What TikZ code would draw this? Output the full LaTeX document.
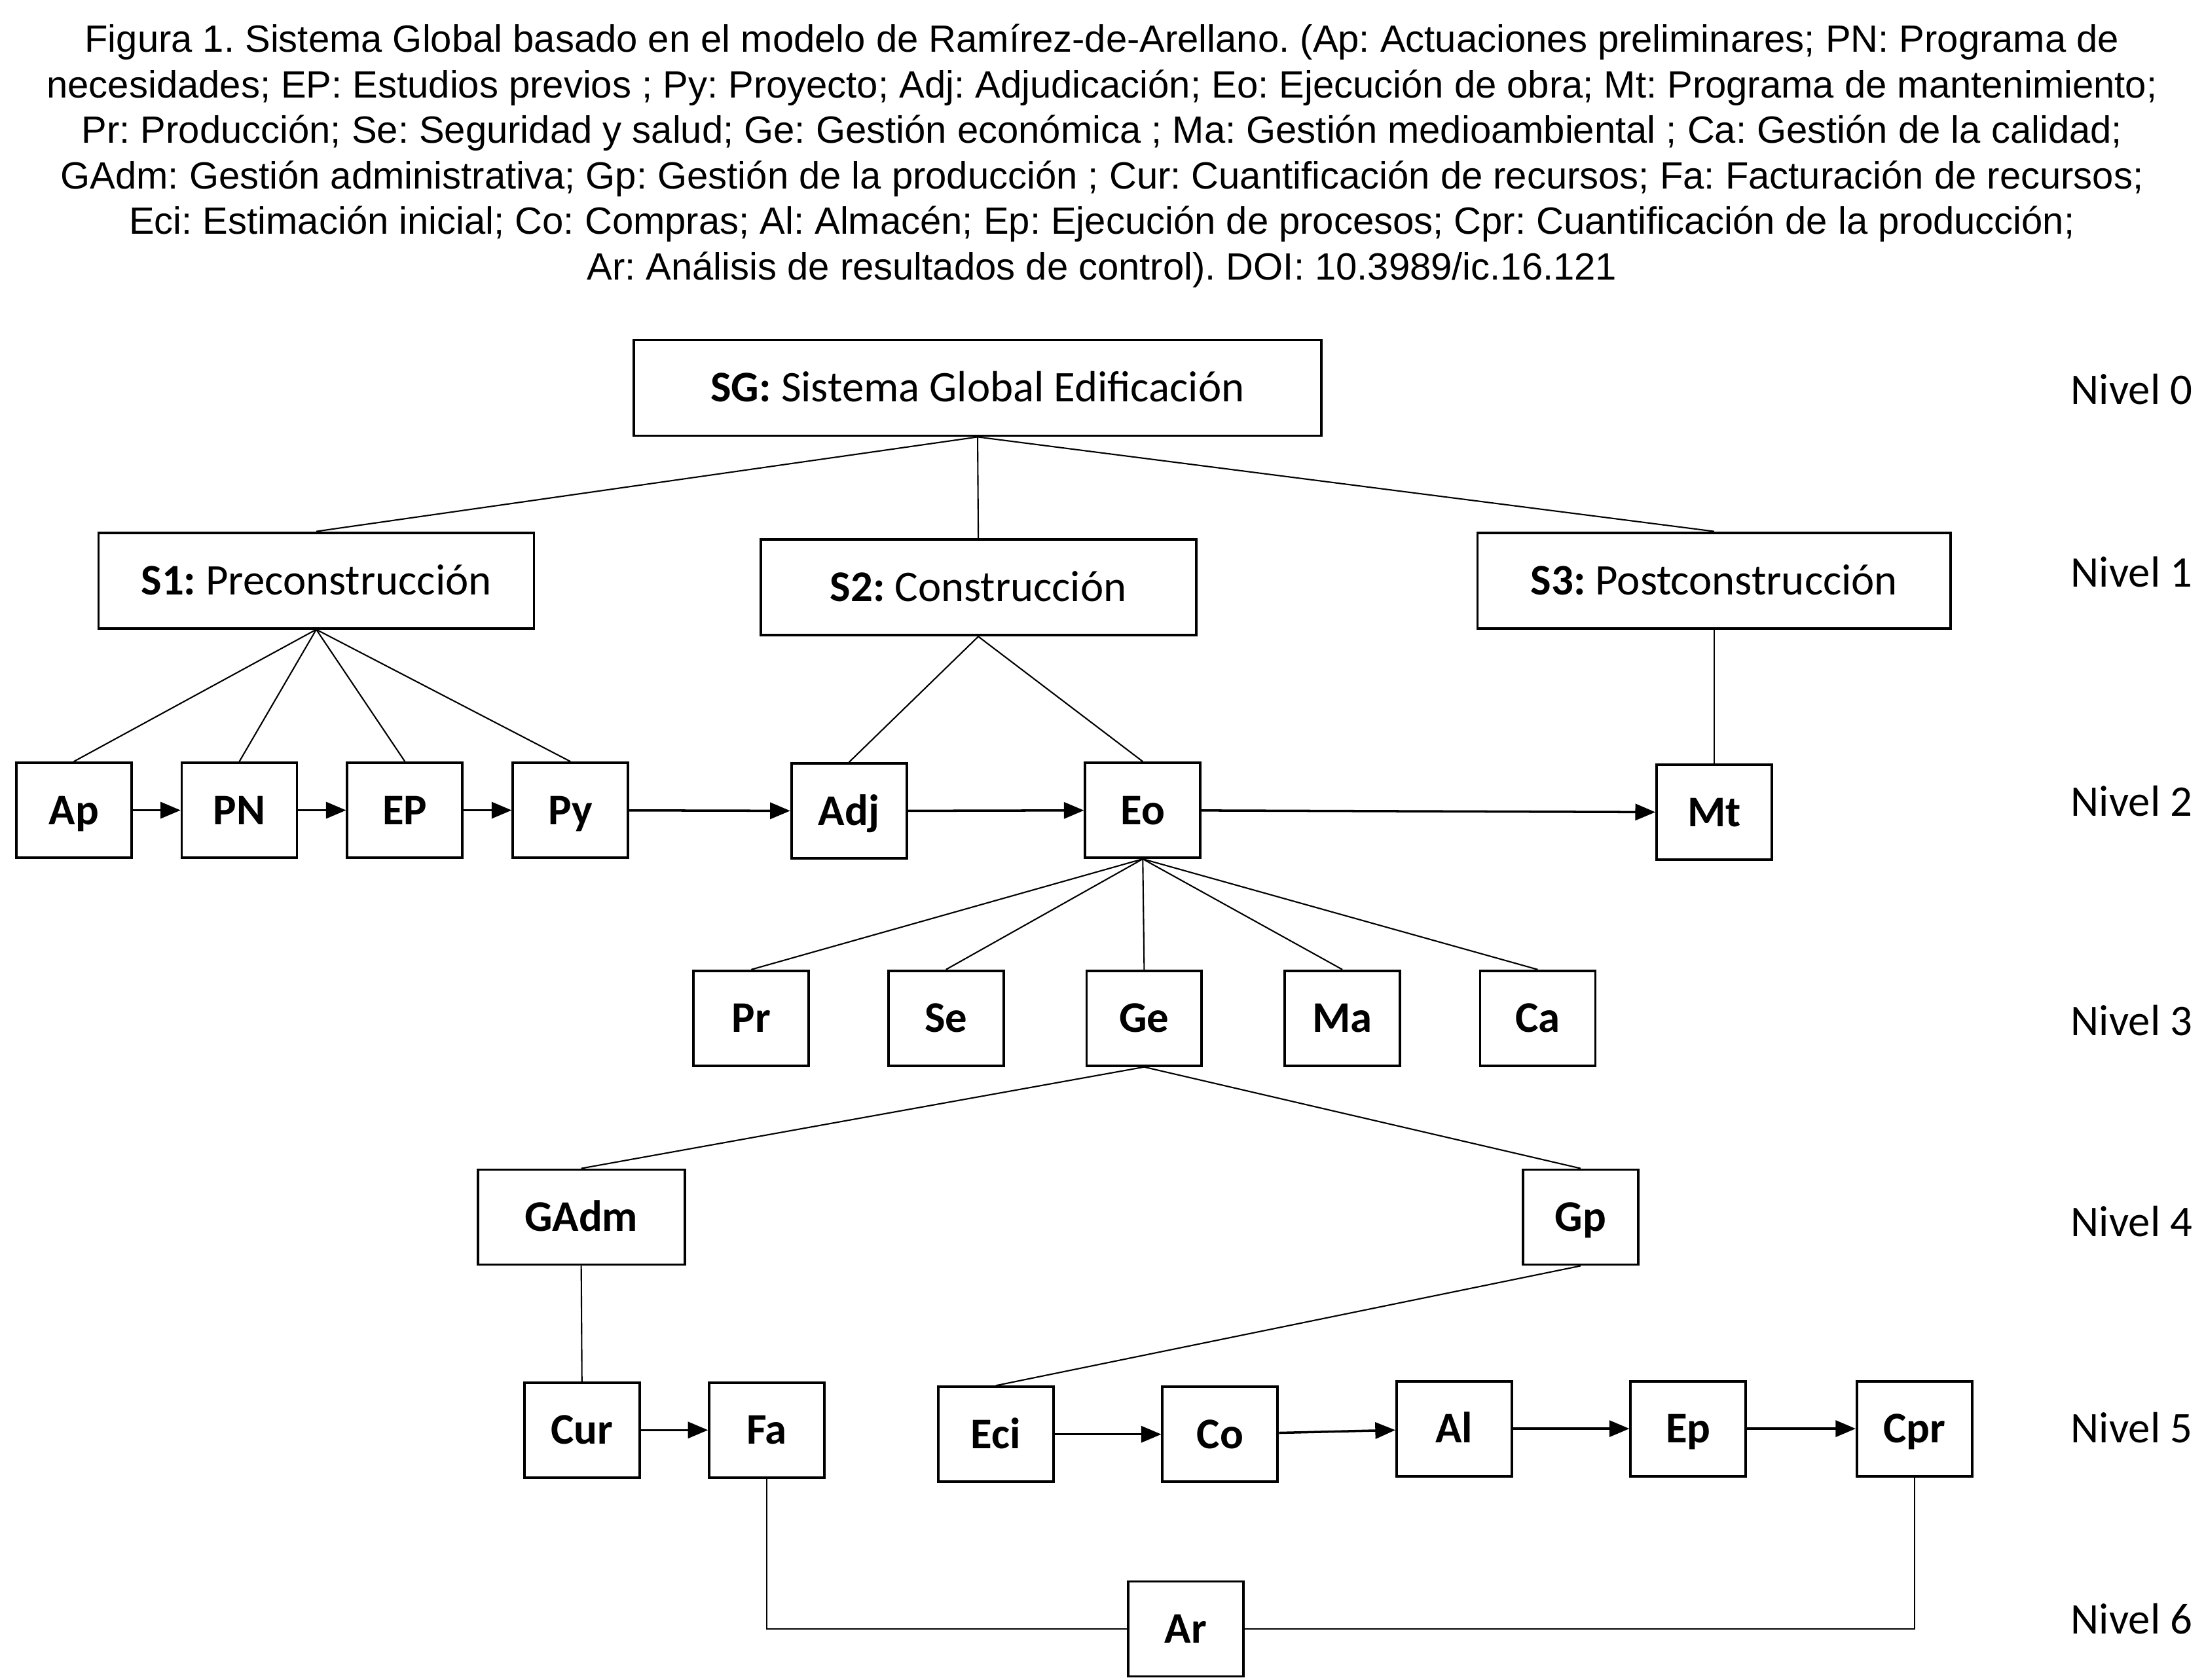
\documentclass[tikz,border=0pt]{standalone}
\usepackage{fontspec}
\setmainfont{Carlito}
\newfontfamily\arialfont{Liberation Sans}
\frenchspacing
\usetikzlibrary{arrows, positioning}
\tikzstyle{system} = [rectangle, minimum height=1.46cm, inner sep=0pt, text height=12.2pt, text depth=0pt, text centered, draw=black, line width=1.1pt, font=\fontsize{19}{23}\selectfont]
\tikzstyle{stage} = [rectangle, minimum width=1.76cm, minimum height=1.45cm, inner sep=0pt, text height=12.2pt, text depth=0pt, text centered, draw=black, line width=1.1pt, font=\fontsize{19}{23}\selectfont\bfseries]
\tikzstyle{nivel} = [anchor=east, inner sep=0pt, font=\fontsize{19}{23}\selectfont]
\tikzstyle{link} = [line width=0.6pt]
\tikzstyle{arrow} = [->,>=triangle 45, line width=1pt]

\begin{document}
\begin{tikzpicture}[x=0.021467cm, y=-0.021467cm]
  \useasboundingbox (0,0) rectangle (1568,1195);
  \node (caption) [font=\arialfont\fontsize{16.5}{19.8}\selectfont, align=center] at (784,111) {Figura 1. Sistema Global basado en el modelo de Ramírez-de-Arellano. (Ap: Actuaciones preliminares; PN: Programa de\\
    necesidades; EP: Estudios previos ; Py: Proyecto; Adj: Adjudicación; Eo: Ejecución de obra; Mt: Programa de mantenimiento;\\
    Pr: Producción; Se: Seguridad y salud; Ge: Gestión económica ; Ma: Gestión medioambiental ; Ca: Gestión de la calidad;\\
    GAdm: Gestión administrativa; Gp: Gestión de la producción ; Cur: Cuantificación de recursos; Fa: Facturación de recursos;\\
    Eci: Estimación inicial; Co: Compras; Al: Almacén; Ep: Ejecución de procesos; Cpr: Cuantificación de la producción;\\
    Ar: Análisis de resultados de control). DOI: 10.3989/ic.16.121};

  \node (sg) [system, minimum width=10.5cm] at (695.5,276) {\textbf{SG:} Sistema Global Edificación};
  \node (s1) [system, minimum width=6.65cm] at (225,413) {\textbf{S1:} Preconstrucción};
  \node (s2) [system, minimum width=6.65cm] at (696,418) {\textbf{S2:} Construcción};
  \node (s3) [system, minimum width=7.23cm] at (1219.5,413) {\textbf{S3:} Postconstrucción};

  \node (ap) [stage] at (52.5,576.5) {Ap};
  \node (pn) [stage, right=0.73cm of ap] {PN};
  \node (ep) [stage, right=0.73cm of pn] {EP};
  \node (py) [stage, right=0.73cm of ep] {Py};
  \node (adj) [stage] at (604,577) {Adj};
  \node (eo) [stage] at (813,576.5) {Eo};
  \node (mt) [stage] at (1219.5,578) {Mt};

  \node (pr) [stage] at (534.5,724.5) {Pr};
  \node (se) [stage] at (673,724.5) {Se};
  \node (ge) [stage] at (814,724.5) {Ge};
  \node (ma) [stage] at (955,724.5) {Ma};
  \node (ca) [stage] at (1094,724.5) {Ca};

  \node (gadm) [stage, minimum width=3.16cm] at (413.5,866) {GAdm};
  \node (gp) [stage] at (1124.5,866) {Gp};

  \node (cur) [stage] at (414,1017.5) {Cur};
  \node (fa) [stage] at (545.5,1017.5) {Fa};
  \node (eci) [stage] at (708.5,1020.5) {Eci};
  \node (co) [stage] at (868,1020.5) {Co};
  \node (al) [stage] at (1034.5,1016.5) {Al};
  \node (eproc) [stage] at (1201,1016.5) {Ep};
  \node (cpr) [stage] at (1362,1016.5) {Cpr};
  \node (ar) [stage] at (843.5,1159) {Ar};

  \node (n0) [nivel] at (1560,277) {Nivel 0};
  \node (n1) [nivel] at (1560,407) {Nivel 1};
  \node (n2) [nivel] at (1560,570) {Nivel 2};
  \node (n3) [nivel] at (1560,726) {Nivel 3};
  \node (n4) [nivel] at (1560,869) {Nivel 4};
  \node (n5) [nivel] at (1560,1016) {Nivel 5};
  \node (n6) [nivel] at (1560,1152) {Nivel 6};

  \draw [link] (sg.south) -- (s1.north);
  \draw [link] (sg.south) -- (s2.north);
  \draw [link] (sg.south) -- (s3.north);
  \draw [link] (s1.south) -- (ap.north);
  \draw [link] (s1.south) -- (pn.north);
  \draw [link] (s1.south) -- (ep.north);
  \draw [link] (s1.south) -- (py.north);
  \draw [link] (s2.south) -- (adj.north);
  \draw [link] (s2.south) -- (eo.north);
  \draw [link] (s3.south) -- (mt.north);
  \draw [link] (eo.south) -- (pr.north);
  \draw [link] (eo.south) -- (se.north);
  \draw [link] (eo.south) -- (ge.north);
  \draw [link] (eo.south) -- (ma.north);
  \draw [link] (eo.south) -- (ca.north);
  \draw [link] (ge.south) -- (gadm.north);
  \draw [link] (ge.south) -- (gp.north);
  \draw [link] (gadm.south) -- (cur.north);
  \draw [link] (gp.south) -- (eci.north);
  \draw [link] (fa.south) |- (ar.west);
  \draw [link] (cpr.south) |- (ar.east);

  \draw [arrow] (ap) -- (pn);
  \draw [arrow] (pn) -- (ep);
  \draw [arrow] (ep) -- (py);
  \draw [arrow] (py) -- (adj);
  \draw [arrow] (adj) -- (eo);
  \draw [arrow] (eo) -- (mt);
  \draw [arrow] (cur) -- (fa);
  \draw [arrow] (eci) -- (co);
  \draw [arrow] (co) -- (al);
  \draw [arrow] (al) -- (eproc);
  \draw [arrow] (eproc) -- (cpr);
\end{tikzpicture}
\end{document}
